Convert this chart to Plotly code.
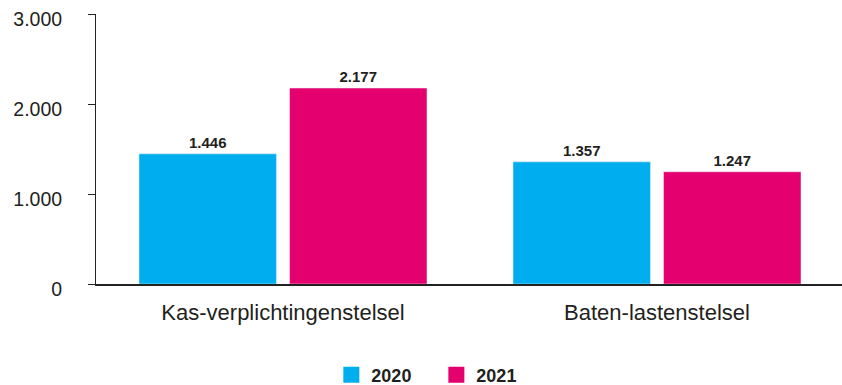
import plotly.graph_objects as go

categories = ["Kas-verplichtingenstelsel", "Baten-lastenstelsel"]
series_names = ["2020", "2021"]
values_2020 = [1446, 1357]
values_2021 = [2177, 1247]
colors = ["#00AEEF", "#E5006F"]
y_ticks = [0, 1000, 2000, 3000]

FONT = "Liberation Sans, Arial, sans-serif"
TXT = "#231F20"

fig = go.Figure()
for name, vals, col in zip(series_names, [values_2020, values_2021], colors):
    fig.add_trace(go.Bar(
        x=categories, y=vals, name=name, marker_color=col, showlegend=False,
        text=[f"{v:,}".replace(",", ".") for v in vals], textposition="outside",
        textfont=dict(family=FONT, size=15, color=TXT, weight="bold"),
        cliponaxis=False,
    ))
    fig.add_trace(go.Scatter(
        x=[None], y=[None], mode="markers", name=name,
        marker=dict(symbol="square", size=16, color=col),
    ))

fig.update_layout(
    width=844, height=385,
    margin=dict(l=96, r=0, t=14, b=101),
    paper_bgcolor="white", plot_bgcolor="white",
    separators=",.",
    barmode="group", bargap=0.195, bargroupgap=0.087,
    font=dict(family=FONT, color=TXT),
    legend=dict(orientation="h", xref="container", yref="container",
                x=0.517, xanchor="center", y=0.026, yanchor="middle",
                font=dict(family=FONT, size=18, color=TXT, weight="bold"),
                itemwidth=30, entrywidth=60, entrywidthmode="pixels"),
    xaxis=dict(showline=True, linecolor="#222", linewidth=1.5, ticks="",
               tickfont=dict(size=22, color=TXT), showgrid=False,
               ticklabelstandoff=8),
    yaxis=dict(range=[0, 3000], tickvals=y_ticks, tickformat=",d",
               showline=True, linecolor="#222", linewidth=1, ticks="outside",
               ticklen=7, tickcolor="#222", showgrid=False, zeroline=False,
               tickfont=dict(size=19.5, color=TXT), ticklabelstandoff=22,
               ticklabelshift=5, ticklabeloverflow="allow"),
)

fig.write_html("out.html", config={"displayModeBar": False},
               post_script="document.body.style.margin='0';document.body.style.overflow='hidden';")
